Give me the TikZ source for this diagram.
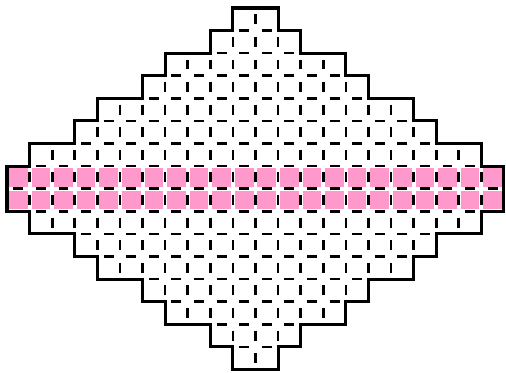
\documentclass[tikz,border=0pt]{standalone}
\definecolor{hl}{HTML}{FF99CC}
\begin{document}
\begin{tikzpicture}[x=0.6cm,y=-0.6cm,
  cellbox/.style={draw=black,line width=2pt,dash pattern=on 7.5pt off 9.57pt,dash phase=12.28pt},
  hlcell/.style={fill=hl,draw=white,line width=3pt},
  outline/.style={draw=black,line width=2.3pt,line join=miter}]
\useasboundingbox (-0.31,-0.354) rectangle (22.09,16.157);
% highlighted band
\foreach \r in {7,8}{
  \foreach \c in {0,...,21}{
    \path[hlcell] (\c,\r) rectangle ++(1,1);
  }
}
% dashed cells
\foreach \r/\a/\b in {0/10/11,1/9/12,2/7/14,3/6/15,4/4/17,5/3/18,6/1/20,7/0/21,8/0/21,9/1/20,10/3/18,11/4/17,12/6/15,13/7/14,14/9/12,15/10/11}{
  \foreach \c in {\a,...,\b}{
    \path[cellbox] (\c,\r) rectangle ++(1,1);
  }
}
% outline
\draw[outline] (10,0) -- (12,0) -- (12,1) -- (13,1) -- (13,2) -- (15,2) -- (15,3) -- (16,3) -- (16,4) -- (18,4) -- (18,5) -- (19,5) -- (19,6) -- (21,6) -- (21,7) -- (22,7) -- (22,9) -- (21,9) -- (21,10) -- (19,10) -- (19,11) -- (18,11) -- (18,12) -- (16,12) -- (16,13) -- (15,13) -- (15,14) -- (13,14) -- (13,15) -- (12,15) -- (12,16) -- (10,16) -- (10,15) -- (9,15) -- (9,14) -- (7,14) -- (7,13) -- (6,13) -- (6,12) -- (4,12) -- (4,11) -- (3,11) -- (3,10) -- (1,10) -- (1,9) -- (0,9) -- (0,7) -- (1,7) -- (1,6) -- (3,6) -- (3,5) -- (4,5) -- (4,4) -- (6,4) -- (6,3) -- (7,3) -- (7,2) -- (9,2) -- (9,1) -- (10,1) -- cycle;
\end{tikzpicture}
\end{document}
